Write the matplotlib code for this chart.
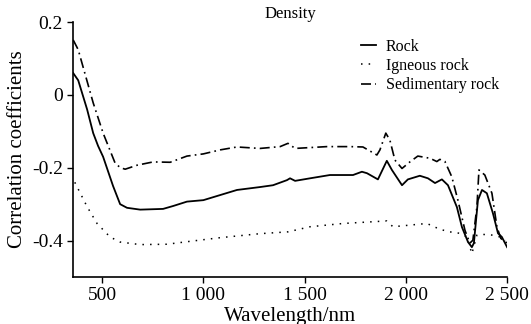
import matplotlib
matplotlib.use("Agg")
import matplotlib.pyplot as plt

plt.rcParams['font.family'] = ['Liberation Serif', 'DejaVu Serif']

# wavelength (nm) / correlation coefficient
wl_rock = [357, 382, 426, 456, 480, 505, 554, 589, 623, 688, 801, 851, 919, 1000,
           1083, 1166, 1280, 1344, 1413, 1428, 1453, 1527, 1625, 1739, 1783, 1808,
           1862, 1906, 1931, 1981, 2010, 2069, 2109, 2144, 2178, 2208, 2252, 2277,
           2307, 2326, 2336, 2356, 2376, 2400, 2430, 2455, 2474, 2500]
rock = [0.06, 0.04, -0.04, -0.105, -0.14, -0.17, -0.25, -0.30, -0.31, -0.315, -0.313,
        -0.305, -0.293, -0.289, -0.275, -0.261, -0.253, -0.248, -0.234, -0.229,
        -0.236, -0.229, -0.22, -0.22, -0.211, -0.215, -0.232, -0.181, -0.206,
        -0.248, -0.232, -0.222, -0.229, -0.242, -0.232, -0.248, -0.308, -0.363,
        -0.404, -0.418, -0.407, -0.289, -0.261, -0.27, -0.325, -0.38, -0.39, -0.418]

wl_ign = [365, 426, 475, 539, 589, 688, 820, 949, 1083, 1280, 1418, 1527, 1690,
          1906, 1936, 2104, 2168, 2217, 2267, 2302, 2326, 2351, 2380, 2430, 2465, 2490]
igneous = [-0.24, -0.307, -0.353, -0.39, -0.404, -0.411, -0.41, -0.401, -0.392,
           -0.381, -0.376, -0.362, -0.353, -0.346, -0.362, -0.353, -0.369, -0.376,
           -0.38, -0.39, -0.436, -0.385, -0.383, -0.385, -0.39, -0.4]

wl_sed = [357, 382, 456, 505, 564, 590, 614, 673, 752, 836, 919, 1000, 1083, 1166,
          1280, 1379, 1418, 1453, 1610, 1724, 1788, 1857, 1872, 1901, 1921, 1946,
          1981, 2020, 2059, 2119, 2153, 2168, 2193, 2227, 2257, 2292, 2316, 2331,
          2351, 2361, 2390, 2425, 2450, 2469, 2500]
sedimentary = [0.151, 0.124, -0.022, -0.105, -0.187, -0.2, -0.204, -0.193, -0.184,
               -0.185, -0.168, -0.162, -0.151, -0.143, -0.147, -0.142, -0.133,
               -0.147, -0.142, -0.142, -0.143, -0.165, -0.151, -0.105, -0.124,
               -0.179, -0.202, -0.184, -0.168, -0.174, -0.183, -0.177, -0.183,
               -0.225, -0.289, -0.372, -0.407, -0.399, -0.307, -0.206, -0.22,
               -0.27, -0.363, -0.394, -0.407]

xticks = [500, 1000, 1500, 2000, 2500]
xticklabels = ['500', '1 000', '1 500', '2 000', '2 500']
yticks = [0.2, 0, -0.2, -0.4]
yticklabels = ['0.2', '0', '-0.2', '-0.4']

fig = plt.figure(figsize=(5.31, 3.24), dpi=100)
ax = fig.add_axes([0.137, 0.145, 0.818, 0.787])

ax.plot(wl_rock, rock, color='black', lw=1.3, label='Rock')
ax.plot(wl_ign, igneous, color='black', lw=1.1, dashes=(1, 4), label='Igneous rock')
ax.plot(wl_sed, sedimentary, color='black', lw=1.2, dashes=(6, 2.5, 1, 2.5),
        label='Sedimentary rock')

ax.set_xlim(355, 2500)
ax.set_ylim(-0.5, 0.2)
ax.set_xticks(xticks)
ax.set_xticklabels(xticklabels)
ax.set_yticks(yticks)
ax.set_yticklabels(yticklabels)
ax.tick_params(labelsize=14, length=4, width=1, direction='out', pad=3)

for s in ['top', 'right']:
    ax.spines[s].set_visible(False)
for s in ['left', 'bottom']:
    ax.spines[s].set_linewidth(1.2)

ax.set_title('Density', fontsize=12, pad=2)
ax.set_ylabel('Correlation coefficients', fontsize=15, va='center')
ax.yaxis.set_label_coords(-0.127, 0.5)
ax.set_xlabel('Wavelength/nm', fontsize=15, va='baseline')
ax.xaxis.set_label_coords(0.5, -0.172)

ax.legend(loc='upper left', bbox_to_anchor=(0.68, 0.88), bbox_transform=fig.transFigure,
          frameon=False, fontsize=11.5, handlelength=0.95, handletextpad=0.6,
          labelspacing=0.2, borderpad=0, borderaxespad=0)

fig.savefig('out.png', dpi=100)
